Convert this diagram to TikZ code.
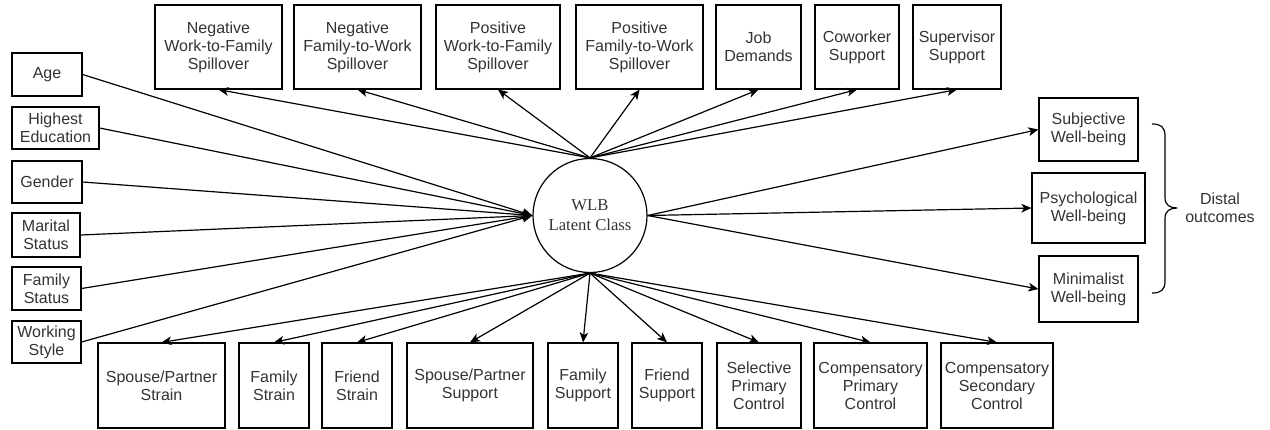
\documentclass[tikz,border=0pt]{standalone}
\usepackage{fontspec}
\setmainfont{Liberation Sans}
\newfontfamily\classfont{Liberation Serif}
\usetikzlibrary{arrows.meta}

\begin{document}
\begin{tikzpicture}[
        x=0.75pt, y=-0.75pt,
        var box/.style={draw, line width=0.9pt, align=center, inner sep=1pt, font=\fontsize{12}{13.5}\selectfont, text=black!80},
        boxsize/.style 2 args={minimum width={#1*0.75pt}, minimum height={#2*0.75pt}},
        class node/.style={draw, circle, line width=0.9pt, minimum size=85.5pt, inner sep=0pt, align=center, font=\classfont\fontsize{12.5}{15}\selectfont, text=black!80},
        link/.style={line width=0.9pt, -{Stealth[length=7.5pt, width=6.5pt, inset=2pt]}},
        brace line/.style={line width=0.9pt, line join=round},
        label text/.style={align=center, font=\fontsize{12}{13.5}\selectfont, text=black!80},
    ]

    \useasboundingbox (0,0) rectangle (1270,429);

    % Latent class
    \node[class node] (wlb) at (590,215.5) {WLB\\Latent Class};

    % Covariates (left)
    \node[var box, boxsize={70}{43}] (age) at (47,74.5) {Age};
    \node[var box, boxsize={87}{42}] (edu) at (55.5,128) {Highest\\Education};
    \node[var box, boxsize={70}{42}] (gender) at (47,182) {Gender};
    \node[var box, boxsize={68}{44}] (marital) at (46,235) {Marital\\Status};
    \node[var box, boxsize={69}{43}] (famstat) at (46.5,288.5) {Family\\Status};
    \node[var box, boxsize={69}{42}] (workstyle) at (46.5,342) {Working\\Style};

    % Indicators (top row)
    \node[var box, boxsize={127}{84}] (nwfs) at (218.5,47) {Negative\\Work-to-Family\\Spillover};
    \node[var box, boxsize={127}{84}] (nfws) at (357.5,47) {Negative\\Family-to-Work\\Spillover};
    \node[var box, boxsize={124}{84}] (pwfs) at (498,47) {Positive\\Work-to-Family\\Spillover};
    \node[var box, boxsize={127}{84}] (pfws) at (639.5,47) {Positive\\Family-to-Work\\Spillover};
    \node[var box, boxsize={85}{84}] (jobdem) at (758.5,47) {Job\\Demands};
    \node[var box, boxsize={84}{84}] (cowork) at (857,47) {Coworker\\Support};
    \node[var box, boxsize={88}{84}] (superv) at (957,47) {Supervisor\\Support};

    % Indicators (bottom row)
    \node[var box, boxsize={127}{85}] (spstrain) at (161.5,385.5) {Spouse/Partner\\Strain};
    \node[var box, boxsize={70}{85}] (famstrain) at (274,385.5) {Family\\Strain};
    \node[var box, boxsize={70}{85}] (frstrain) at (357,385.5) {Friend\\Strain};
    \node[var box, boxsize={126}{85}] (spsupport) at (470,385.5) {Spouse/Partner\\Support};
    \node[var box, boxsize={70}{85}] (famsupport) at (583,385.5) {Family\\Support};
    \node[var box, boxsize={70}{85}] (frsupport) at (667,385.5) {Friend\\Support};
    \node[var box, boxsize={84}{85}] (spc) at (759,385.5) {Selective\\Primary\\Control};
    \node[var box, boxsize={113}{85}] (cpc) at (870.5,385.5) {Compensatory\\Primary\\Control};
    \node[var box, boxsize={112}{85}] (csc) at (997,385.5) {Compensatory\\Secondary\\Control};

    % Distal outcomes (right)
    \node[var box, boxsize={99}{63}] (swb) at (1088.5,129.5) {Subjective\\Well-being};
    \node[var box, boxsize={113}{70}] (pwb) at (1088.5,208) {Psychological\\Well-being};
    \node[var box, boxsize={99}{66}] (mwb) at (1088.5,289) {Minimalist\\Well-being};

    % Arrows
    \foreach \n in {age, edu, gender, marital, famstat, workstyle}
        \draw[link] (\n.east) -- (wlb.west);
    \foreach \n in {nwfs, nfws, pwfs, pfws, jobdem, cowork, superv}
        \draw[link] (wlb.north) -- (\n.south);
    \foreach \n in {spstrain, famstrain, frstrain, spsupport, famsupport, frsupport, spc, cpc, csc}
        \draw[link] (wlb.south) -- (\n.north);
    \foreach \n in {swb, pwb, mwb}
        \draw[link] (wlb.east) -- (\n.west);

    % Brace and its label
    \draw[brace line] (1152,124) .. controls (1161,124) and (1165,127) .. (1165,136)
        -- (1165,198) .. controls (1165,205) and (1170,208) .. (1177,208)
        .. controls (1170,208) and (1165,211) .. (1165,218)
        -- (1165,281) .. controls (1165,290) and (1161,293) .. (1152,293);
    \node[label text] (distal) at (1220,208) {Distal\\outcomes};

\end{tikzpicture}
\end{document}
